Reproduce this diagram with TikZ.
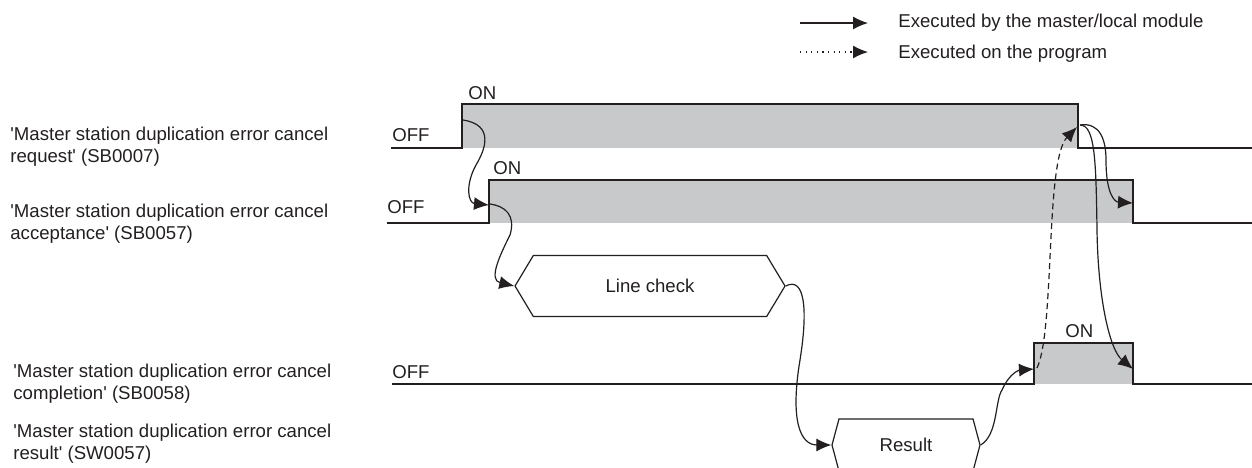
\documentclass[tikz,border=0pt]{standalone}
\usepackage{fontspec}
\setmainfont{Liberation Sans}
\usetikzlibrary{arrows.meta,shapes.symbols}
\definecolor{ink}{RGB}{35,31,32}
\definecolor{onfill}{RGB}{200,201,202}
\begin{document}
\begin{tikzpicture}[x=0.5pt,y=-0.5pt,>={Latex[length=7.5pt,width=6.5pt]},
  every node/.style={text=ink,inner sep=0pt,font=\fontsize{9.3}{11}\selectfont},
  wave/.style={draw=ink,line width=0.8pt},
  flow/.style={draw=ink,line width=0.6pt,->},
  phase/.style={draw=ink,line width=0.6pt,shape=signal,signal to=west and east}]
\useasboundingbox (0,0) rectangle (1252,467);
% legend
\coordinate (solidA) at (800,23);
\coordinate (solidB) at (868,23);
\coordinate (dotA) at (800,52);
\coordinate (dotB) at (868,52);
\draw[flow] (solidA) -- (solidB);
\draw[flow,dash pattern=on 0.6pt off 2.2pt] (dotA) -- (dotB);
\node[anchor=base west] (legsolid) at (898,27) {Executed by the master/local module};
\node[anchor=base west] (legdot) at (898,58) {Executed on the program};
% signal names
\node[anchor=west,align=left] (sreq) at (10,147) {\textquotesingle Master station duplication error cancel\\request\textquotesingle{} (SB0007)};
\node[anchor=west,align=left] (sacc) at (10,224) {\textquotesingle Master station duplication error cancel\\acceptance\textquotesingle{} (SB0057)};
\node[anchor=west,align=left] (scmp) at (13,384) {\textquotesingle Master station duplication error cancel\\completion\textquotesingle{} (SB0058)};
\node[anchor=west,align=left] (sres) at (13,444) {\textquotesingle Master station duplication error cancel\\result\textquotesingle{} (SW0057)};
% SB0007
\fill[onfill] (462,104) rectangle (1078,148);
\draw[wave] (391,148) -- (462,148) -- (462,104) -- (1078,104) -- (1078,148) -- (1252,148);
\node[anchor=base west] (reqoff) at (392,141) {OFF};
\node[anchor=base west] (reqonl) at (468,99) {ON};
% SB0057
\fill[onfill] (489,180) rectangle (1133,223);
\draw[wave] (387,223) -- (489,223) -- (489,180) -- (1133,180) -- (1133,223) -- (1252,223);
\node[anchor=base west] (accoff) at (387,213) {OFF};
\node[anchor=base west] (acconl) at (493,174) {ON};
% SB0058
\fill[onfill] (1034,343) rectangle (1133,384);
\draw[wave] (392,384) -- (1034,384) -- (1034,343) -- (1133,343) -- (1133,384) -- (1252,384);
\node[anchor=base west] (cmpoff) at (392,378) {OFF};
\node[anchor=base west] (cmponl) at (1065,337) {ON};
% SW0057
\node[phase,minimum width=135pt,minimum height=30.5pt,signal pointer angle=118] (chk) at (650,286) {Line check};
\node[phase,minimum width=74pt,minimum height=26pt,signal pointer angle=150] (res) at (906,445) {Result};
% edges
\coordinate (reqon) at (463,120);
\coordinate (accon) at (489,205);
\coordinate (accup) at (490,204);
\coordinate (cmpon) at (1034,369);
\coordinate (cmpup) at (1037,368);
\coordinate (reqdown) at (1077,127);
\coordinate (reqfall) at (1080,125);
\coordinate (accdown) at (1133,203);
\coordinate (cmpdown) at (1133,369);
\draw[flow] (reqon) .. controls (495,125) and (485,150) .. (476,165) .. controls (465,185) and (468,203) .. (accon);
\draw[flow] (accup) .. controls (505,206) and (516,215) .. (510,235) .. controls (500,255) and (488,280) .. (chk.west);
\draw[flow] (chk.east) .. controls (805,276) and (808,310) .. (800,360) .. controls (790,420) and (800,445) .. (res.west);
\draw[flow] (res.east) .. controls (998,435) and (995,400) .. (1002,390) .. controls (1010,372) and (1020,370) .. (cmpon);
\draw[flow,dash pattern=on 3pt off 2pt] (cmpup) .. controls (1055,330) and (1045,160) .. (reqdown);
\draw[flow] (reqfall) .. controls (1100,122) and (1106,140) .. (1106,160) .. controls (1106,195) and (1115,202) .. (accdown);
\draw[flow] (reqfall) .. controls (1095,125) and (1096,160) .. (1097,230) .. controls (1098,300) and (1110,350) .. (cmpdown);
\end{tikzpicture}
\end{document}
